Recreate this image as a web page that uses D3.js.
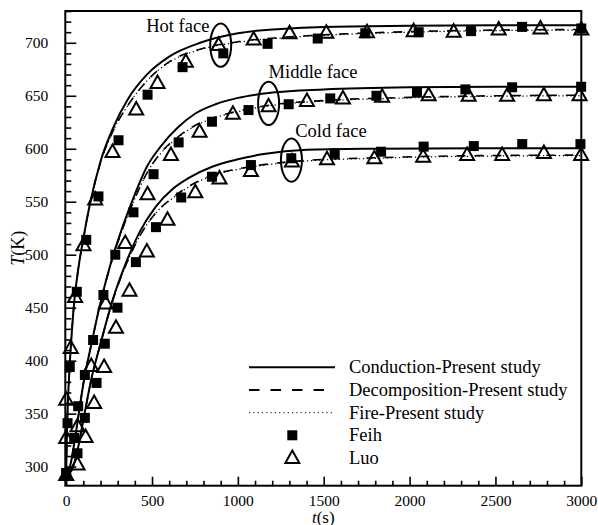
<!DOCTYPE html>
<html>
<head>
<meta charset="utf-8">
<script src="https://cdn.jsdelivr.net/npm/d3@7"></script>
<style>
  html, body { margin: 0; padding: 0; background: #fff; }
  svg { display: block; }
  svg text { font-family: "Liberation Serif", "Times New Roman", serif !important; fill: #000; }
</style>
</head>
<body>
<svg id="chart" width="598" height="525"></svg>
<script>
// ---------------- data ----------------
const xTicksMajor = [0, 500, 1000, 1500, 2000, 2500, 3000];
const yTicksMajor = [300, 350, 400, 450, 500, 550, 600, 650, 700];

// Conduction - Present study (solid)
const conductionHot = [[0,293],[5,335],[10,360],[20,394],[30,420],[45,452],[70,486],[100,515],[140,549],[200,588],[280,622],[360,647],[470,670],[600,687],[780,700],[1000,709],[1250,713],[1500,715],[2000,716],[2500,716.5],[3000,716.5]];
const conductionMiddle = [[0,293],[25,302],[50,325],[75,352],[100,378],[150,418],[200,455],[260,492],[330,527],[400,557],[470,583],[550,602],[650,620],[750,633],[870,642],[1000,648],[1200,653],[1500,656],[2000,658],[2500,658.5],[3000,658.5]];
const conductionCold = [[0,293],[30,296],[60,311],[100,344],[150,385],[200,416],[270,457],[350,493],[430,522],[520,545],[620,562],[720,573],[850,583],[1000,590],[1150,595],[1400,599],[1800,600],[2400,600.5],[3000,600.5]];

// Decomposition - Present study (dashed)
const decompHot = [[0,293],[5,335],[10,360],[20,394],[30,420],[45,452],[70,486],[100,515],[140,549],[200,587],[280,619],[360,641],[470,664],[600,682],[780,694],[1000,701],[1250,705],[1500,707.5],[2000,710.5],[2500,712],[3000,712.5]];
const decompMiddle = [[0,293],[25,302],[50,325],[75,352],[100,378],[150,418],[200,455],[260,491],[330,525],[400,553],[470,577],[550,596],[650,611],[750,622],[870,630],[1000,635.5],[1200,641.5],[1500,645.5],[2000,648.5],[2500,650],[3000,650.5]];
const decompCold = [[0,293],[30,296],[60,311],[100,344],[150,385],[200,416],[270,456],[350,491],[430,518],[520,539],[620,554],[720,565],[850,575],[1000,581],[1150,585],[1400,589],[1800,591.5],[2400,593.5],[3000,594]];

// Fire - Present study (dotted)
const fireHot = [[0,293],[5,335],[10,360],[20,394],[30,420],[45,452],[70,486],[100,515],[140,549],[200,587],[280,619],[360,641],[470,664],[600,681.5],[780,693.5],[1000,700.5],[1250,704.5],[1500,707],[2000,710],[2500,711.5],[3000,712]];
const fireMiddle = [[0,293],[25,302],[50,325],[75,352],[100,378],[150,418],[200,455],[260,491],[330,525],[400,553],[470,577],[550,595.5],[650,610.5],[750,621.5],[870,629.5],[1000,635],[1200,641],[1500,645],[2000,648],[2500,649.5],[3000,650]];
const fireCold = [[0,293],[30,296],[60,311],[100,344],[150,385],[200,416],[270,456],[350,491],[430,518],[520,539],[620,553.5],[720,564.5],[850,574.5],[1000,580.5],[1150,584.5],[1400,588.5],[1800,591],[2400,593],[3000,593.5]];

// Feih (filled squares)
const feihHot = [[0,293],[8,341],[21,394],[62,465],[117,514],[188,555],[305,608],[474,651],[678,677],[915,690],[1173,699],[1465,704],[1742,709],[2053,710],[2358,711],[2655,715],[3000,713.5]];
const feihMiddle = [[0,294],[47,327],[70,357],[109,386.5],[157,419.5],[217,462],[286,500],[392,540],[509,576],[655,606],[849,625.5],[1062,636.5],[1296,642],[1538,647.5],[1807,650],[2043,653],[2325,656],[2597,658],[2999,658.5]];
const feihCold = [[66,312.6],[109,346],[177,379],[225,416],[299,450],[406,493],[523,526],[670,554],[849,573.6],[1076,584.6],[1311,591],[1564,595.7],[1834,597.2],[2082,602],[2374,602.5],[2656,604.4],[2995,604.4]];

// Luo (open triangles)
const luoHot = [[0,292],[0,327],[0,363],[27,412],[52,460],[101,509],[169,552],[270,597],[408,637],[532,662],[697,682],[888,698],[1092,703],[1301,709],[1515,709.5],[1752,710],[2024,711],[2257,710.5],[2519,712.5],[2762,713.5],[3000,712.5]];
const luoMiddle = [[66,338],[146,395],[231,454],[344,511],[474,557],[610,594],[777,616],[971,633],[1179,640],[1402,645],[1612,647.5],[1840,649],[2111,650.5],[2344,650],[2568,650],[2782,650.5],[2990,650.5]];
const luoCold = [[66,302],[113,328],[163,360],[221,394],[290,431],[369,466],[470,503],[590,533],[752,559],[893,572],[1076,579],[1315,588],[1519,590],[1795,591],[2079,592.5],[2335,594],[2539,594],[2782,596],[2999,594]];

// annotations (data units)
const faceLabels = ["Hot face", "Middle face", "Cold face"];
const faceLabelPos = [[466,710],[1179,666.5],[1334,611.3]];
const ellipseCenters = [[900,697.8],[1179,642.8],[1312,589.3]];

const legendLabels = ["Conduction-Present study", "Decomposition-Present study", "Fire-Present study", "Feih", "Luo"];

// ---------------- drawing ----------------
const FONT = '"Liberation Serif", "Times New Roman", serif';
const svg = d3.select("#chart");
const pLeft = 65.3, pRight = 581.3, pTop = 11, pBottom = 485.7;
const x = d3.scaleLinear().domain([-5, 3000]).range([pLeft, pRight]);
const y = d3.scaleLinear().domain([282, 730]).range([pBottom, pTop]);

const xMinor = d3.range(0, 3001, 100).filter(v => v % 500 !== 0);
const yMinor = d3.range(290, 731, 10).filter(v => v % 50 !== 0);

const gx = svg.append("g").attr("transform", `translate(0,${pBottom})`);
gx.call(d3.axisBottom(x).tickValues(xTicksMajor).tickSize(-9).tickPadding(7).tickFormat(d3.format("d")));
const gxm = svg.append("g").attr("transform", `translate(0,${pBottom})`);
gxm.call(d3.axisBottom(x).tickValues(xMinor).tickSize(-5).tickFormat(""));

const gy = svg.append("g").attr("transform", `translate(${pLeft},0)`);
gy.call(d3.axisLeft(y).tickValues(yTicksMajor).tickSize(-11).tickPadding(17).tickFormat(d3.format("d")));
const gym = svg.append("g").attr("transform", `translate(${pLeft},0)`);
gym.call(d3.axisLeft(y).tickValues(yMinor).tickSize(-6).tickFormat(""));

[gx, gxm, gy, gym].forEach(g => {
  g.attr("font-family", null).style("font-family", FONT);
  g.select(".domain").remove();
  g.selectAll(".tick line").attr("stroke", "#000").attr("stroke-width", 1.6);
  g.selectAll(".tick text").style("font-size", "15.5px").style("font-family", FONT).attr("fill", "#000");
});
gx.selectAll(".tick text").attr("dy", "0.85em");

svg.append("rect").attr("x", pLeft).attr("y", pTop).attr("width", pRight - pLeft).attr("height", pBottom - pTop)
  .attr("fill", "none").attr("stroke", "#000").attr("stroke-width", 2);

const line = d3.line().x(d => x(d[0])).y(d => y(d[1])).curve(d3.curveMonotoneX);

const plot = svg.append("g");
[conductionHot, conductionMiddle, conductionCold].forEach(s =>
  plot.append("path").attr("d", line(s)).attr("fill", "none").attr("stroke", "#000").attr("stroke-width", 2));
[decompHot, decompMiddle, decompCold].forEach(s =>
  plot.append("path").attr("d", line(s)).attr("fill", "none").attr("stroke", "#000").attr("stroke-width", 1.6).attr("stroke-dasharray", "9,9"));
[fireHot, fireMiddle, fireCold].forEach(s =>
  plot.append("path").attr("d", line(s)).attr("fill", "none").attr("stroke", "#000").attr("stroke-width", 1.2).attr("stroke-dasharray", "1.3,2.7"));

const sq = 10;
function drawSquares(data) {
  plot.selectAll(null).data(data).enter().append("rect")
    .attr("x", d => x(d[0]) - sq / 2).attr("y", d => y(d[1]) - sq / 2)
    .attr("width", sq).attr("height", sq).attr("fill", "#000");
}
const triPath = "M0,-7.5L7,5L-7,5Z";
function drawTriangles(data) {
  plot.selectAll(null).data(data).enter().append("path")
    .attr("d", triPath).attr("transform", d => `translate(${x(d[0])},${y(d[1])})`)
    .attr("fill", "none").attr("stroke", "#000").attr("stroke-width", 2);
}
[feihHot, feihMiddle, feihCold].forEach(drawSquares);
[luoHot, luoMiddle, luoCold].forEach(drawTriangles);

ellipseCenters.forEach(c => {
  svg.append("ellipse").attr("cx", x(c[0])).attr("cy", y(c[1])).attr("rx", 10.5).attr("ry", 21.7)
    .attr("fill", "none").attr("stroke", "#000").attr("stroke-width", 2);
});
faceLabels.forEach((t, i) => {
  svg.append("text").attr("x", x(faceLabelPos[i][0])).attr("y", y(faceLabelPos[i][1]))
    .style("font-size", "18.5px").text(t);
});

const xt = svg.append("text").attr("x", (pLeft + pRight) / 2).attr("y", 522.5).attr("text-anchor", "middle").style("font-size", "17px");
xt.append("tspan").attr("font-style", "italic").text("t");
xt.append("tspan").text("(s)");
const yt = svg.append("text").attr("transform", `translate(24,${(pTop + pBottom) / 2}) rotate(-90)`).attr("text-anchor", "middle").style("font-size", "18px");
yt.append("tspan").attr("font-style", "italic").text("T");
yt.append("tspan").text("(K)");

const legY = [367.3, 390, 412.7, 435.3, 458];
const lg = svg.append("g");
lg.append("line").attr("x1", 249).attr("x2", 335).attr("y1", legY[0]).attr("y2", legY[0]).attr("stroke", "#000").attr("stroke-width", 2);
lg.append("line").attr("x1", 249).attr("x2", 324).attr("y1", legY[1]).attr("y2", legY[1]).attr("stroke", "#000").attr("stroke-width", 2).attr("stroke-dasharray", "10.5,11");
lg.append("line").attr("x1", 249).attr("x2", 332).attr("y1", legY[2]).attr("y2", legY[2]).attr("stroke", "#000").attr("stroke-width", 1).attr("stroke-dasharray", "1.2,3.1");
lg.append("rect").attr("x", 292.3 - 5).attr("y", legY[3] - 5).attr("width", 10).attr("height", 10).attr("fill", "#000");
lg.append("path").attr("d", triPath).attr("transform", `translate(292.3,${legY[4]})`).attr("fill", "none").attr("stroke", "#000").attr("stroke-width", 2);
legendLabels.forEach((t, i) => {
  lg.append("text").attr("x", 349).attr("y", legY[i] + 6).style("font-size", "18.5px").text(t);
});
</script>
</body>
</html>
